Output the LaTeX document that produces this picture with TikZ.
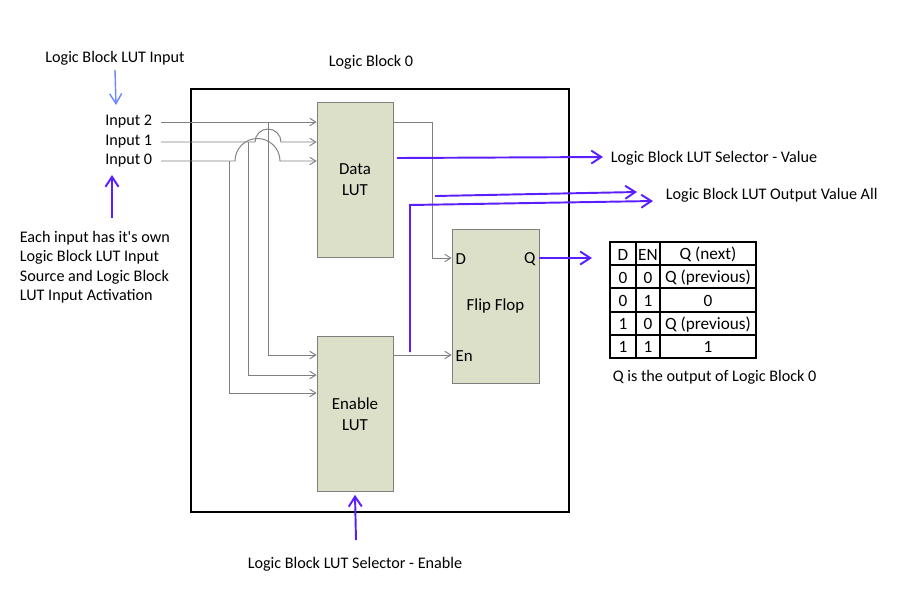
\documentclass[tikz,border=0pt]{standalone}
\usepackage{fontspec}
\setmainfont{Carlito}
\usetikzlibrary{arrows.meta, positioning}
\definecolor{lutfill}{HTML}{DDE0C9}
\definecolor{lutedge}{HTML}{7F7F7F}
\definecolor{wiregray}{HTML}{808080}
\definecolor{selblue}{HTML}{5A1EFF}
\definecolor{inblue}{HTML}{6C86FF}

\begin{document}
\begin{tikzpicture}[x=0.02cm, y=-0.02cm,
      txt/.style={font=\fontsize{9.2}{11.1}\selectfont, inner sep=2pt},
      tbl/.style={font=\fontsize{9.8}{11.5}\selectfont, inner sep=1pt},
      frame/.style={draw, line width=1.2pt, minimum width=7.56cm, minimum height=8.46cm},
      lut/.style={draw=lutedge, fill=lutfill, minimum width=1.52cm, minimum height=3.1cm,
                  align=center, font=\fontsize{9.6}{12}\selectfont},
      pin/.style={font=\fontsize{9.6}{12}\selectfont, inner sep=2pt},
      wire/.style={wiregray, line width=0.55pt},
      gw/.style={wire, -{Straight Barb[length=0.12cm, width=0.15cm]}},
      sel/.style={selblue, line width=1.1pt, -{Straight Barb[length=0.2cm, width=0.26cm]}},
      inarr/.style={inblue, line width=0.8pt, -{Straight Barb[length=0.2cm, width=0.24cm]}},
      grid/.style={line width=1.1pt}]

    \useasboundingbox (0,0) rectangle (900,600);

    % ---- Logic Block frame ----
    \node[frame] (lb) at (380,300.5) {};
    \node[txt] (lbt) at (371,62) {Logic Block 0};

    % ---- LUTs and flip flop ----
    \node[lut] (dlut) at (355,180) {Data\\LUT};
    \node[lut] (elut) at (355,414) {Enable\\LUT};
    \node[lut, minimum width=1.74cm, minimum height=3.08cm] (ff) at (495.5,306) {Flip Flop};
    \node[pin, anchor=west] (fd)  at (ff.west |- 0,259) {D};
    \node[pin, anchor=east] (fq)  at (ff.east |- 0,259) {Q};
    \node[pin, anchor=west] (fen) at (ff.west |- 0,356) {En};

    % ---- Inputs ----
    \node[txt, anchor=east] (in2) at (156,122) {Input 2};
    \node[txt, anchor=east] (in1) at (156,142) {Input 1};
    \node[txt, anchor=east] (in0) at (156,161) {Input 0};

    % into Data LUT (hops over the branches)
    \draw[gw] ([xshift=0.1cm]in2.east) -- (in2 -| dlut.west);
    \draw[gw] ([xshift=0.1cm]in1.east) -- (255,142)
          arc[start angle=180, end angle=0, radius=0.26cm] -- (in1 -| dlut.west);
    \draw[gw] ([xshift=0.1cm]in0.east) -- (235,161)
          arc[start angle=180, end angle=0, radius=0.45cm] -- (in0 -| dlut.west);

    % branches down to Enable LUT
    \coordinate (t2) at (268,122);
    \coordinate (t1) at (248,142);
    \coordinate (t0) at (229,161);
    \draw[gw] (t2) |- (elut.west |- 0,355);
    \draw[gw] (t1) |- (elut.west |- 0,375);
    \draw[gw] (t0) |- (elut.west |- 0,393);

    % ---- LUT outputs to flip flop ----
    \coordinate (dk) at (432,122);
    \draw[gw] (dlut.east |- in2) -- (dk) |- (ff.west |- 0,258);
    \draw[gw] (elut.east |- 0,355) -- (ff.west |- 0,355);

    % ---- Selector / output arrows ----
    \node[txt, anchor=west] (sv)  at (607,158) {Logic Block LUT Selector - Value};
    \node[txt, anchor=west] (ova) at (662,195) {Logic Block LUT Output Value All};
    \coordinate (sv0) at (397,158);
    \draw[sel] (sv0) -- (603,157);

    \coordinate (ov0) at (435,196);
    \coordinate (ov1) at (637,192);
    \draw[sel] (ov0) -- (ov1);
    \coordinate (en0) at (410,352);
    \coordinate (en1) at (410,205);
    \coordinate (en2) at (653,201);
    \draw[sel] (en0) -- (en1) -- (en2);

    \coordinate (qo) at (592,258);
    \draw[sel] (ff.east |- 0,258) -- (qo);

    \node[txt] (sen) at (355,564) {Logic Block LUT Selector - Enable};
    \coordinate (se0) at (356,540);
    \draw[sel] (se0) -- ([yshift=-0.06cm]elut.south);

    % ---- Left notes ----
    \node[txt] (lin) at (115,58) {Logic Block LUT Input};
    \coordinate (li1) at (116,105);
    \draw[inarr] ([yshift=-0.02cm]lin.south) -- (li1);

    \node[txt, anchor=north west, align=left] (each) at (16,227)
          {Each input has it\textquotesingle s own\\Logic Block LUT Input\\Source and Logic Block\\LUT Input Activation};
    \coordinate (ea0) at (112,218);
    \coordinate (ea1) at (112,175);
    \draw[sel] (ea0) -- (ea1);

    % ---- Truth table ----
    \def\tL{610} \def\tA{636} \def\tB{660} \def\tR{756}
    \def\tT{242} \def\tH{23.2}
    \draw[grid] (\tL,\tT) rectangle (\tR,\tT+5*\tH);
    \foreach \r in {1,...,4}
        \draw[grid] (\tL,\tT+\r*\tH) -- (\tR,\tT+\r*\tH);
    \draw[grid] (\tA,\tT) -- (\tA,\tT+5*\tH);
    \draw[grid] (\tB,\tT) -- (\tB,\tT+5*\tH);

    \foreach \d/\e/\q [count=\r from 0] in {D/EN/Q (next), 0/0/Q (previous), 0/1/0, 1/0/Q (previous), 1/1/1} {
        \node[tbl] (td\r) at ({(\tL+\tA)/2}, \tT+\r*\tH+\tH/2+1) {\d};
        \node[tbl] (te\r) at ({(\tA+\tB)/2}, \tT+\r*\tH+\tH/2+1) {\e};
        \node[tbl] (tq\r) at ({(\tB+\tR)/2}, \tT+\r*\tH+\tH/2+1) {\q};
    }
    \node[txt, anchor=west] (qcap) at (609,377) {Q is the output of Logic Block 0};

\end{tikzpicture}
\end{document}
